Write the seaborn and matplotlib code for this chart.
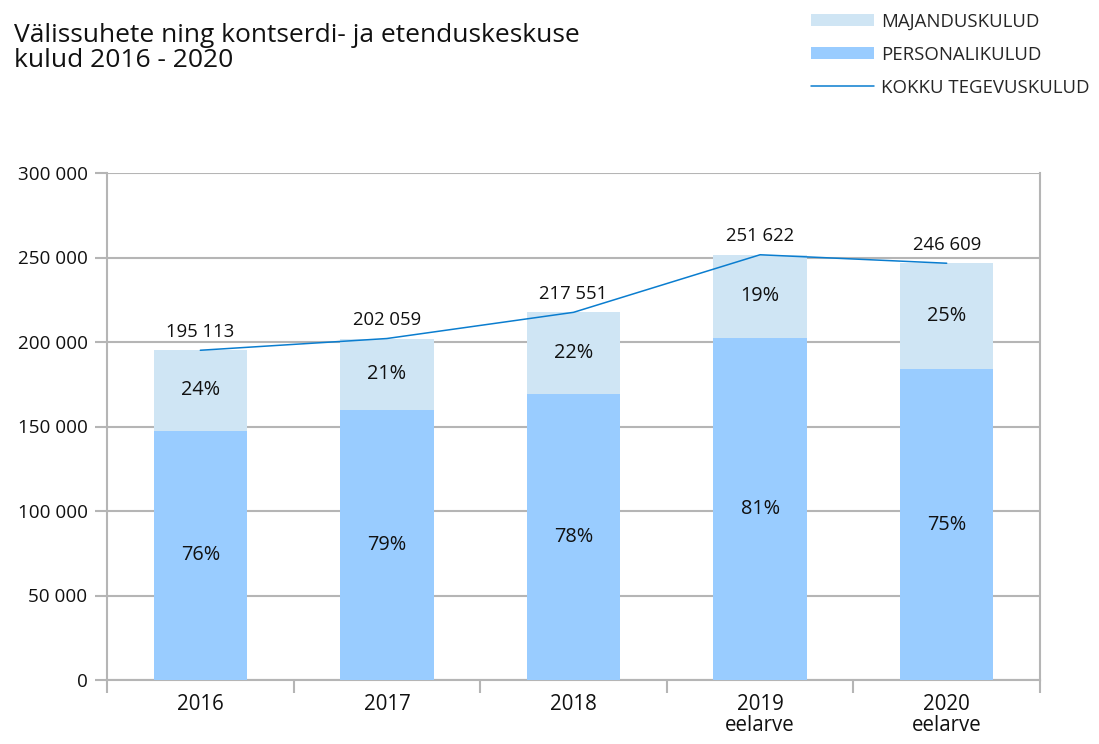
import matplotlib
matplotlib.use("Agg")
import matplotlib.pyplot as plt
import seaborn as sns
import pandas as pd
from matplotlib.patches import Patch
from matplotlib.lines import Line2D

categories = ["2016", "2017", "2018", "2019\neelarve", "2020\neelarve"]
totals = [195113, 202059, 217551, 251622, 246609]
personal = [147500, 159800, 169500, 202500, 184000]
personal_pct = ["76%", "79%", "78%", "81%", "75%"]
majandus_pct = ["24%", "21%", "22%", "19%", "25%"]
total_labels = ["195 113", "202 059", "217 551", "251 622", "246 609"]
yticks = [0, 50000, 100000, 150000, 200000, 250000, 300000]
ytick_labels = ["0", "50 000", "100 000", "150 000", "200 000", "250 000", "300 000"]

C_MAJ = "#CFE5F4"
C_PER = "#99CCFF"
C_LINE = "#0A7DCF"
C_GRID = "#B5B5B5"
C_TXT = "#111111"

sns.set_theme(style="white")
plt.rcParams["font.family"] = ["Open Sans", "DejaVu Sans"]

df = pd.DataFrame({"cat": categories, "total": totals, "personal": personal})

fig = plt.figure(figsize=(10.99, 7.44), dpi=100)
ax = fig.add_axes([107/1099, 1-680/744, (1040-107)/1099, (680-173)/744])

sns.barplot(data=df, x="cat", y="total", color=C_MAJ, width=0.5, ax=ax,
            saturation=1, zorder=2, edgecolor="none", linewidth=0)
sns.barplot(data=df, x="cat", y="personal", color=C_PER, width=0.5, ax=ax,
            saturation=1, zorder=3, edgecolor="none", linewidth=0)
ax.plot(range(len(categories)), totals, color=C_LINE, lw=1.1, zorder=4)

for i in range(len(categories)):
    ax.annotate(total_labels[i], (i, totals[i]), xytext=(0, 7),
                textcoords="offset points", ha="center", va="bottom",
                fontsize=13.3, color=C_TXT, zorder=5)
    ax.text(i, (totals[i] + personal[i]) / 2, majandus_pct[i], ha="center",
            va="center", fontsize=14.3, color=C_TXT, zorder=5)
    ax.text(i, personal[i] / 2, personal_pct[i], ha="center", va="center",
            fontsize=14.3, color=C_TXT, zorder=5)

ax.set_ylim(0, 300000)
ax.set_xlim(-0.5, len(categories) - 0.5)
ax.set_yticks(yticks)
ax.set_yticklabels(ytick_labels, fontsize=13.6, color=C_TXT)
ax.yaxis.grid(True, color=C_GRID, lw=1.5, zorder=0)
ax.set_axisbelow(True)

ax.set_xticks([i - 0.5 for i in range(len(categories) + 1)])
ax.set_xticklabels([""] * (len(categories) + 1))
ax.set_xticks(range(len(categories)), minor=True)
ax.set_xticklabels(categories, minor=True, fontsize=14.8, color=C_TXT,
                   linespacing=1.0)
ax.tick_params(axis="x", which="major", length=9, width=1.5, color=C_GRID,
               direction="out", bottom=True)
ax.tick_params(axis="x", which="minor", length=0, pad=10, bottom=True)
ax.tick_params(axis="y", length=9, width=1.5, color=C_GRID, direction="out",
               left=True, pad=5)
ax.set_xlabel("")
ax.set_ylabel("")

for s in ["left", "bottom", "right"]:
    ax.spines[s].set_visible(True)
    ax.spines[s].set_color(C_GRID)
    ax.spines[s].set_linewidth(1.5)
ax.spines["top"].set_visible(False)

fig.text(14/1099, 1-48/744, "Välissuhete ning kontserdi- ja etenduskeskuse\nkulud 2016 - 2020",
         fontsize=19, color=C_TXT, va="center", ha="left", linespacing=0.95)

handles = [Patch(facecolor=C_MAJ, edgecolor="none"),
           Patch(facecolor=C_PER, edgecolor="none"),
           Line2D([0], [0], color=C_LINE, lw=1.1)]
labels = ["MAJANDUSKULUD", "PERSONALIKULUD", "KOKKU TEGEVUSKULUD"]
fig.legend(handles, labels, loc="upper left", bbox_to_anchor=(794/1099, 1+4/744),
           frameon=False, fontsize=13.4, handlelength=3.4, handleheight=0.6,
           labelspacing=0.8, handletextpad=0.4, borderpad=0.4)

fig.savefig("out.png", dpi=100)
